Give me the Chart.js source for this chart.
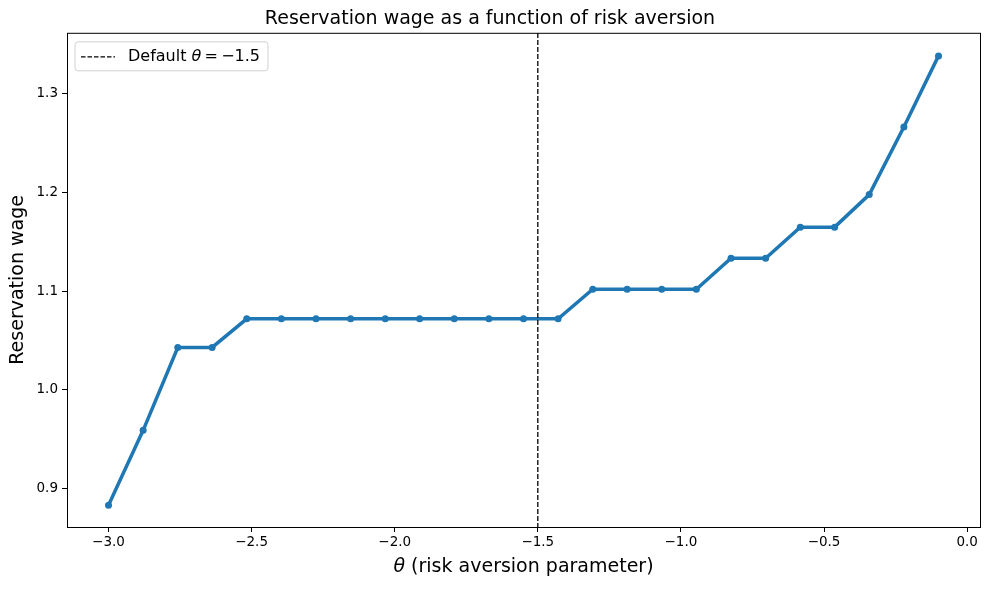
<!DOCTYPE html>
<html>
<head>
<meta charset="utf-8">
<script src="https://cdn.jsdelivr.net/npm/chart.js@4.4.1/dist/chart.umd.min.js"></script>
<style>
  html, body { margin: 0; padding: 0; background: #fff; }
  #wrap { width: 989px; height: 590px; }
</style>
</head>
<body>
<div id="wrap"><canvas id="wageChart"></canvas></div>
<script>
// theta grid: linspace(-3, -0.1, 25)
const thetas = [-3.0, -2.879, -2.758, -2.638, -2.517, -2.396, -2.275, -2.154, -2.033, -1.913,
                -1.792, -1.671, -1.550, -1.429, -1.308, -1.188, -1.067, -0.946, -0.825, -0.704,
                -0.583, -0.463, -0.342, -0.221, -0.100];
const reservationWage = [0.883, 0.959, 1.043, 1.043, 1.072, 1.072, 1.072, 1.072, 1.072, 1.072,
                         1.072, 1.072, 1.072, 1.072, 1.102, 1.102, 1.102, 1.102, 1.1335, 1.1335,
                         1.165, 1.165, 1.198, 1.2665, 1.3386];
const defaultTheta = -1.5;
const xTicks = [-3.0, -2.5, -2.0, -1.5, -1.0, -0.5, 0.0];
const yTicks = [0.9, 1.0, 1.1, 1.2, 1.3];

const FONT = "'DejaVu Sans', sans-serif";
const fmt = v => (v < 0 ? '\u2212' : '') + Math.abs(v).toFixed(1);

const points = thetas.map((t, i) => ({ x: t, y: reservationWage[i] }));

// frame, legend box and axis labels with italic theta
const decorations = {
    id: 'decorations',
    afterDraw(chart) {
        const { ctx, chartArea: a } = chart;
        ctx.save();
        ctx.strokeStyle = '#000';
        ctx.lineWidth = 1;
        ctx.strokeRect(a.left + 0.5, a.top + 0.5, a.right - a.left, a.bottom - a.top);

        // legend
        const lx = a.left + 8, ly = a.top + 9;
        ctx.font = '16px ' + FONT;
        const label1 = 'Default ';
        const w1 = ctx.measureText(label1).width;
        ctx.font = 'italic 16px ' + FONT;
        const wt = ctx.measureText('\u03b8').width;
        ctx.font = '16px ' + FONT;
        const label2 = '\u2009=\u2009\u22121.5';
        const w2 = ctx.measureText(label2).width;
        const boxW = 6 + 34 + 13 + w1 + wt + w2 + 8;
        const boxH = 29;
        ctx.fillStyle = 'rgba(255,255,255,0.8)';
        ctx.strokeStyle = '#d0d0d0';
        ctx.beginPath();
        ctx.roundRect(lx, ly, boxW, boxH, 3);
        ctx.fill();
        ctx.stroke();
        ctx.strokeStyle = '#000';
        ctx.lineWidth = 1.3;
        ctx.setLineDash([4.5, 2]);
        ctx.beginPath();
        ctx.moveTo(lx + 6, ly + boxH / 2 + 0.5);
        ctx.lineTo(lx + 40, ly + boxH / 2 + 0.5);
        ctx.stroke();
        ctx.setLineDash([]);
        ctx.fillStyle = '#000';
        ctx.textBaseline = 'middle';
        ctx.textAlign = 'left';
        let tx = lx + 53;
        ctx.fillText(label1, tx, ly + boxH / 2 + 1); tx += w1;
        ctx.font = 'italic 16px ' + FONT;
        ctx.fillText('\u03b8', tx, ly + boxH / 2 + 1); tx += wt;
        ctx.font = '16px ' + FONT;
        ctx.fillText(label2, tx, ly + boxH / 2 + 1);

        // x axis title
        ctx.font = '19px ' + FONT;
        const xt = ' (risk aversion parameter)';
        const wx = ctx.measureText(xt).width;
        ctx.font = 'italic 19px ' + FONT;
        const wth = ctx.measureText('\u03b8').width;
        let sx = (a.left + a.right) / 2 - (wx + wth) / 2;
        const sy = 567;
        ctx.fillText('\u03b8', sx, sy);
        ctx.font = '19px ' + FONT;
        ctx.fillText(xt, sx + wth, sy);

        // y axis title
        ctx.translate(18, (a.top + a.bottom) / 2);
        ctx.rotate(-Math.PI / 2);
        ctx.textAlign = 'center';
        ctx.fillText('Reservation wage', 0, 0);
        ctx.restore();
    }
};

new Chart(document.getElementById('wageChart'), {
    type: 'line',
    data: {
        datasets: [
            {
                label: 'Reservation wage',
                data: points,
                borderColor: '#1f77b4',
                backgroundColor: '#1f77b4',
                borderWidth: 3.5,
                pointRadius: 3.5,
                pointHoverRadius: 3.5,
                pointBorderWidth: 0,
                tension: 0,
                order: 1
            },
            {
                label: 'Default',
                data: [{ x: defaultTheta, y: 0.86 }, { x: defaultTheta, y: 1.362 }],
                borderColor: '#000',
                borderWidth: 1.3,
                borderDash: [5, 2],
                pointRadius: 0,
                order: 0
            }
        ]
    },
    options: {
        responsive: true,
        maintainAspectRatio: false,
        animation: false,
        layout: { padding: { left: 0, right: 9, top: 0, bottom: 0 } },
        plugins: {
            legend: { display: false },
            tooltip: { enabled: false },
            title: {
                display: true,
                text: 'Reservation wage as a function of risk aversion',
                color: '#000',
                font: { family: FONT, size: 19, weight: 'normal' },
                padding: { top: 8, bottom: 2 }
            }
        },
        scales: {
            x: {
                type: 'linear',
                min: -3.145,
                max: 0.045,
                afterBuildTicks: s => { s.ticks = xTicks.map(v => ({ value: v })); },
                afterFit: s => { s.height = 63; },
                ticks: {
                    color: '#000',
                    font: { family: FONT, size: 13.5 },
                    padding: 2,
                    maxRotation: 0,
                    autoSkip: false,
                    callback: v => fmt(v)
                },
                grid: { drawOnChartArea: false, color: '#000', tickLength: 5, tickWidth: 1 },
                border: { display: false }
            },
            y: {
                type: 'linear',
                min: 0.861,
                max: 1.362,
                afterBuildTicks: s => { s.ticks = yTicks.map(v => ({ value: v })); },
                afterFit: s => { s.width = 67; },
                ticks: {
                    color: '#000',
                    font: { family: FONT, size: 13.5 },
                    padding: 4,
                    autoSkip: false,
                    callback: v => fmt(v)
                },
                grid: { drawOnChartArea: false, color: '#000', tickLength: 5, tickWidth: 1 },
                border: { display: false }
            }
        }
    },
    plugins: [decorations]
});
</script>
</body>
</html>
